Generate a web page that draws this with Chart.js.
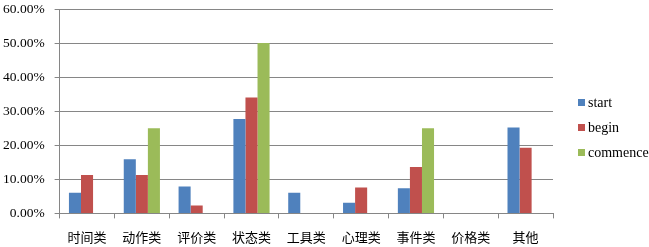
<!DOCTYPE html>
<html>
<head>
<meta charset="utf-8">
<script src="https://cdn.jsdelivr.net/npm/chart.js@4/dist/chart.umd.min.js"></script>
<style>
  html, body { margin: 0; padding: 0; background: #fff; }
  #wrap { width: 649px; height: 247px; position: relative; }
  #legend { position: absolute; left: 578px; top: 95px; font-family: "Liberation Serif", "Times New Roman", serif; font-size: 14px; color: #000; }
  #legend div { height: 25px; line-height: 16px; white-space: nowrap; }
  #legend span.box { display: inline-block; width: 7px; height: 7px; margin-right: 3px; vertical-align: 1px; }
</style>
</head>
<body>
<div id="wrap">
  <canvas id="chart"></canvas>
  <div id="legend"></div>
</div>
<script>
// categories and series (percent)
const categories = ['时间类', '动作类', '评价类', '状态类', '工具类', '心理类', '事件类', '价格类', '其他'];
const seriesNames = ['start', 'begin', 'commence'];
const startValues = [6.05, 15.9, 7.9, 27.7, 6.05, 3.1, 7.4, 0, 25.2];
const beginValues = [11.3, 11.3, 2.3, 34.0, 0, 7.6, 13.6, 0, 19.3];
const commenceValues = [0, 25.0, 0, 50.0, 0, 0, 25.0, 0, 0];
const seriesColors = ['#4F81BD', '#C0504D', '#9BBB59'];
const yTicks = [0, 10, 20, 30, 40, 50, 60];

const serif = '"Liberation Serif", "Times New Roman", "Noto Sans CJK SC", serif';

const ctx = document.getElementById('chart').getContext('2d');
const chart = new Chart(ctx, {
    type: 'bar',
    data: {
        labels: categories,
        datasets: [
            { label: seriesNames[0], data: startValues, backgroundColor: seriesColors[0] },
            { label: seriesNames[1], data: beginValues, backgroundColor: seriesColors[1] },
            { label: seriesNames[2], data: commenceValues, backgroundColor: seriesColors[2] }
        ]
    },
    options: {
        responsive: true,
        maintainAspectRatio: false,
        animation: false,
        layout: { padding: { top: 9, right: 96, left: -7, bottom: -11 } },
        datasets: {
            bar: { barPercentage: 1, categoryPercentage: 0.66 }
        },
        plugins: {
            tooltip: { enabled: false },
            legend: { display: false }
        },
        scales: {
            x: {
                grid: {
                    offset: true,
                    drawOnChartArea: false,
                    drawTicks: true,
                    tickLength: 5,
                    color: '#868686'
                },
                border: { color: '#868686' },
                ticks: {
                    color: '#000',
                    padding: 12,
                    maxRotation: 0,
                    font: { family: serif, size: 13 }
                }
            },
            y: {
                min: 0,
                max: 60,
                afterBuildTicks: axis => { axis.ticks = yTicks.map(v => ({ value: v })); },
                afterFit: axis => { axis.paddingTop = 0; axis.paddingBottom = 0; },
                grid: {
                    color: '#868686',
                    drawTicks: true,
                    tickLength: 5
                },
                border: { color: '#868686' },
                ticks: {
                    color: '#000',
                    padding: 10,
                    font: { family: serif, size: 13.5 },
                    callback: v => v.toFixed(2) + '%'
                }
            }
        }
    }
});

// legend as html
const legendEl = document.getElementById('legend');
seriesNames.forEach((name, i) => {
    legendEl.insertAdjacentHTML('beforeend',
        `<div><span class="box" style="background:${seriesColors[i]}"></span>${name}</div>`);
});
</script>
</body>
</html>
